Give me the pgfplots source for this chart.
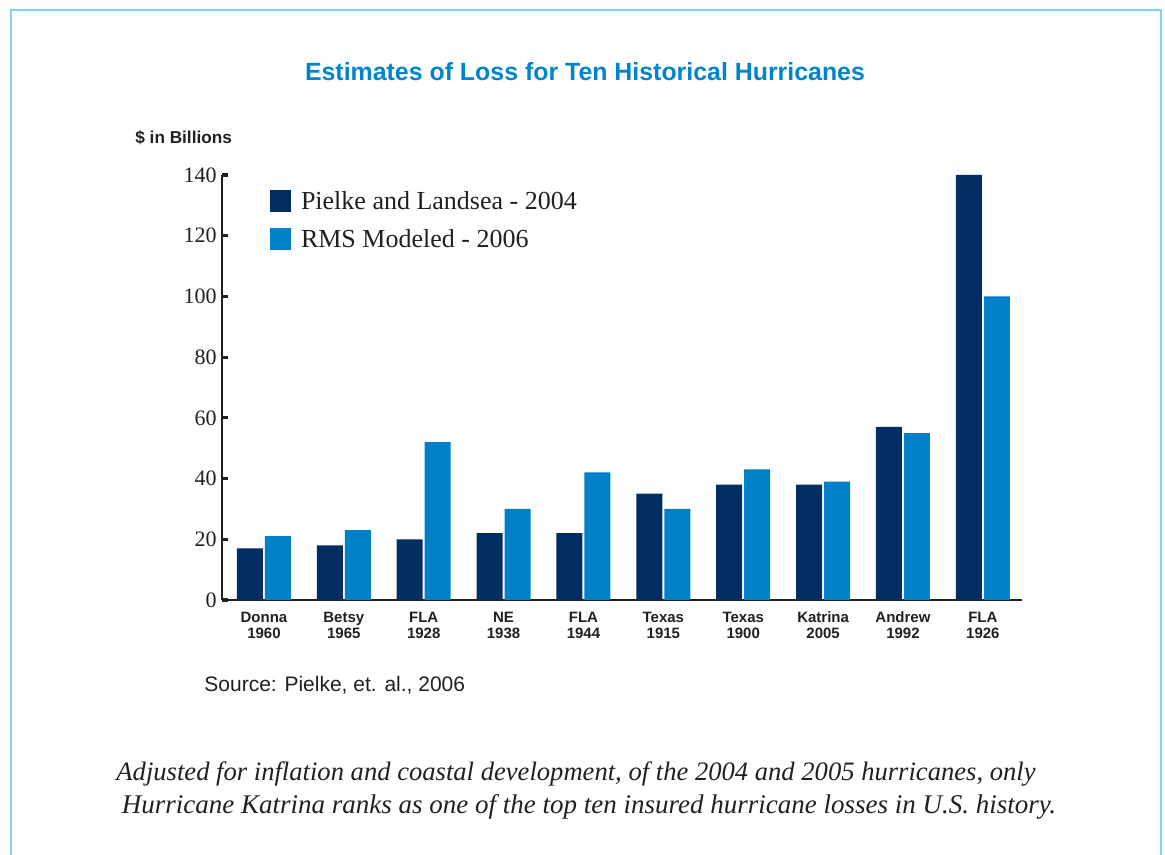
\documentclass[border=0pt]{standalone}
\usepackage{fontspec}
\setmainfont{Liberation Serif}
\setsansfont{Liberation Sans}
\usepackage{pgfplots}
\pgfplotsset{compat=1.18}
\definecolor{navy}{RGB}{0,45,98}
\definecolor{rms}{RGB}{0,128,198}
\definecolor{framec}{RGB}{125,215,240}
\definecolor{titleblue}{RGB}{0,133,204}
\definecolor{ink}{RGB}{35,31,32}
\begin{document}
\begin{tikzpicture}[x=1pt,y=1pt]
\useasboundingbox (-111,-127.5) rectangle (471.5,300);
\draw[framec, line width=1pt] (-105.5,-140) -- (-105.5,295) -- (469.5,295) -- (469.5,-140);
\begin{axis}[
  at={(0,0)}, anchor=south west,
  scale only axis, width=400pt, height=212.5pt,
  xmin=-0.525, xmax=9.49, ymin=0, ymax=140,
  axis x line=bottom, axis y line=left,
  axis line style={-, line width=0.75pt, ink},
  ytick={0,20,...,140},
  xtick={0,...,9},
  xticklabels={{\strut Donna\\1960},{\strut Betsy\\1965},{\strut FLA\\1928},{\strut NE\\1938},{\strut FLA\\1944},{\strut Texas\\1915},{\strut Texas\\1900},{\strut Katrina\\2005},{\strut Andrew\\1992},{\strut FLA\\1926}},
  x tick label style={font=\sffamily\bfseries\fontsize{7.5}{8}\selectfont, align=center, text=ink, inner sep=0pt, yshift=-5.5pt},
  xtick style={draw=none},
  y tick label style={font=\fontsize{11}{12}\selectfont, text=ink, inner xsep=2.5pt},
  /pgf/number format/assume math mode=true,
  ytick style={line width=1.6pt, ink},
  major tick length=3pt,
  tick align=inside,
  legend style={at={(0.06,0.965)}, anchor=north west, draw=none, fill=none, inner sep=0pt, outer sep=0pt,
    font=\fontsize{13}{15}\selectfont, text=ink, row sep=7pt,
    nodes={inner sep=0pt, text height=8pt, text depth=2pt}},
  legend cell align=left,
]
\addplot[ybar, bar width=13pt, bar shift=-7pt, fill=navy, draw=none,
  legend image code/.code={\fill[navy] (0pt,-4pt) rectangle (10.5pt,7pt); \path (15.5pt,0pt);}]
  coordinates {(0,17) (1,18) (2,20) (3,22) (4,22) (5,35) (6,38) (7,38) (8,57) (9,140)};
\addlegendentry{Pielke and Landsea - 2004}
\addplot[ybar, bar width=13pt, bar shift=7pt, fill=rms, draw=none,
  legend image code/.code={\fill[rms] (0pt,-4pt) rectangle (10.5pt,7pt); \path (15.5pt,0pt);}]
  coordinates {(0,21) (1,23) (2,52) (3,30) (4,42) (5,30) (6,43) (7,39) (8,55) (9,100)};
\addlegendentry{RMS Modeled - 2006}
\end{axis}
\node[anchor=base, inner sep=0pt, text=titleblue, font=\sffamily\bfseries\fontsize{12.45}{14}\selectfont] at (181.5,259.5) {Estimates of Loss for Ten Historical Hurricanes};
\node[anchor=base west, inner sep=0pt, text=ink, font=\sffamily\bfseries\fontsize{8.6}{10}\selectfont] at (-43.5,228) {\$ in Billions};
\node[anchor=base west, inner sep=0pt, text=ink, font=\sffamily\fontsize{10.5}{12}\selectfont] at (-9,-46) {Source: Pielke, et. al., 2006};
\node[anchor=base, inner sep=0pt, text=ink, font=\itshape\fontsize{13.3}{15}\selectfont] at (177,-90) {Adjusted for inflation and coastal development, of the 2004 and 2005 hurricanes, only};
\node[anchor=base, inner sep=0pt, text=ink, font=\itshape\fontsize{13.5}{15}\selectfont] at (183.5,-106.5) {Hurricane Katrina ranks as one of the top ten insured hurricane losses in U.S. history.};
\end{tikzpicture}
\end{document}
